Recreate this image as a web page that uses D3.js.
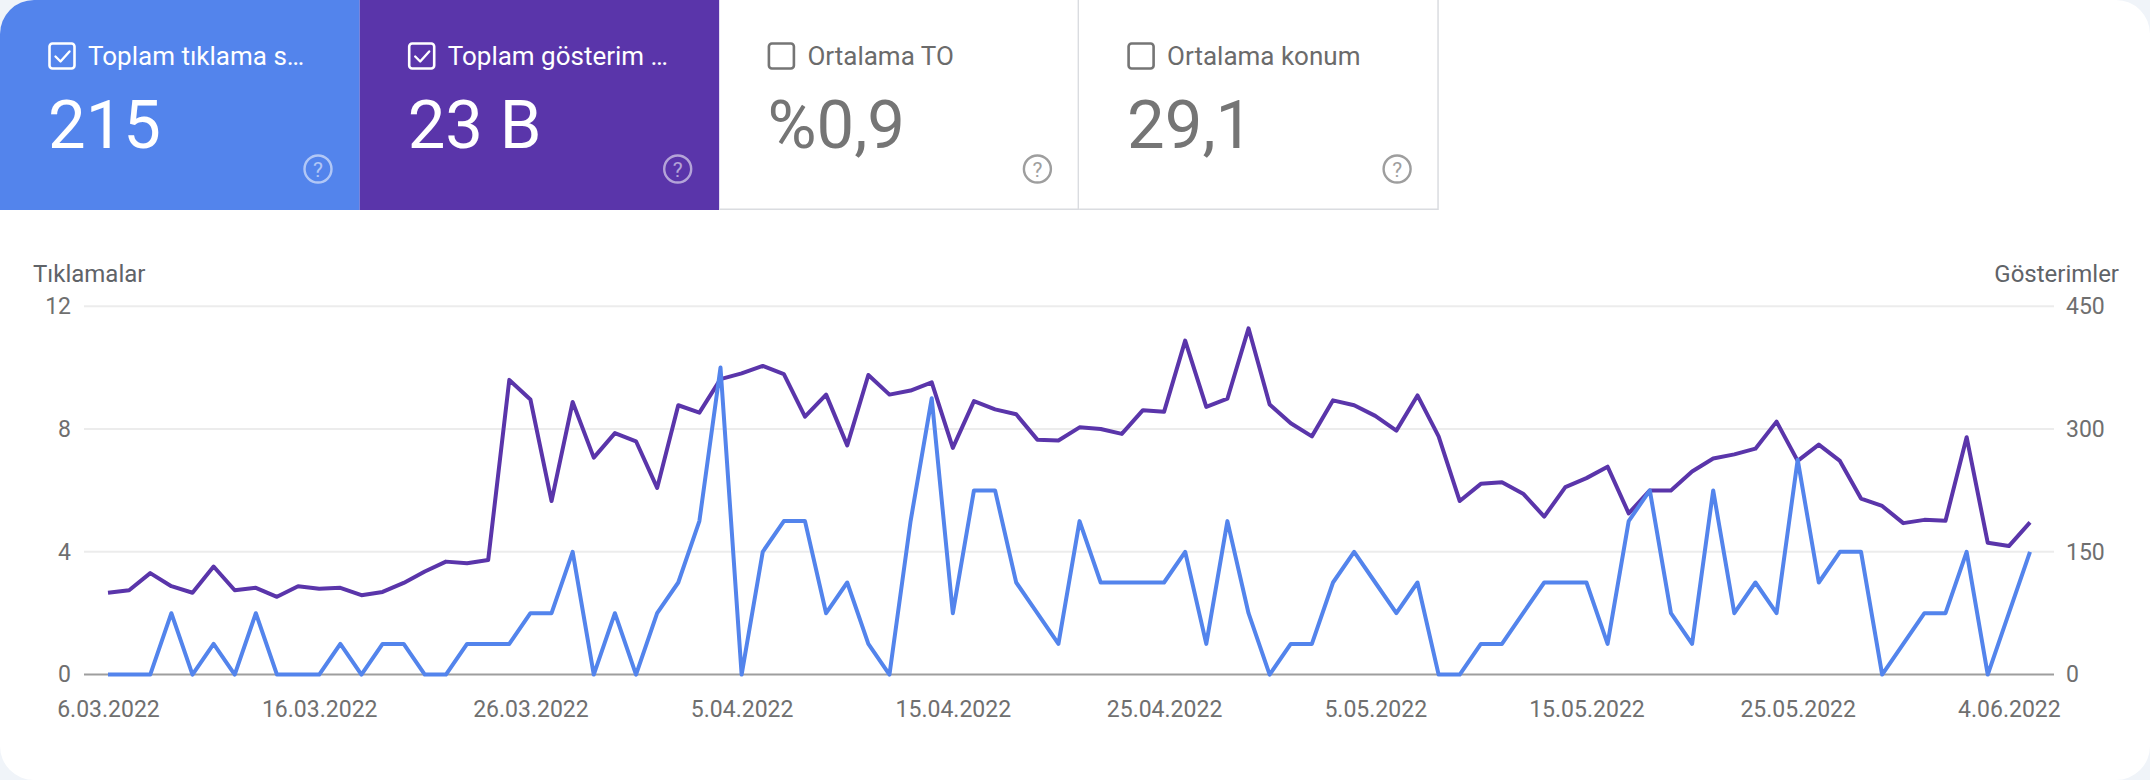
<!DOCTYPE html>
<html>
<head>
<meta charset="utf-8">
<script src="https://cdn.jsdelivr.net/npm/d3@7"></script>
<style>
  body { margin: 0; background: #f0f4f9; }
  svg { display: block; font-family: Roboto, "Noto Sans", sans-serif; }
</style>
</head>
<body>
<svg id="chart" width="2150" height="780"></svg>
<script>
// daily series, 6.03.2022 .. 5.06.2022
const startDate = new Date(2022, 2, 6);
const endDate = new Date(2022, 5, 5);

const clicks = [
  0, 0, 0, 2, 0, 1, 0, 2, 0, 0, 0, 1, 0, 1, 1, 0, 0, 1, 1, 1, 2, 2,
  4, 0, 2, 0, 2, 3, 5, 10, 0, 4, 5, 5, 2, 3, 1, 0, 5, 9, 2, 6, 6, 3, 2, 1, 5, 3,
  3, 3, 3, 4, 1, 5, 2, 0, 1, 1, 3, 4, 3, 2, 3, 0, 0, 1, 1, 2, 3, 3, 3, 1, 5,
  6, 2, 1, 6, 2, 3, 2, 7, 3, 4, 4, 0, 1, 2, 2, 4, 0, 2, 4
];

const impressions = [
  100, 103, 124, 108, 100, 132, 103, 106, 95, 108, 105, 106, 97, 101, 112, 126, 138, 136, 140, 360, 336, 212,
  333, 265, 295, 285, 228, 329, 320, 361, 368, 377, 367, 315, 342, 280, 366, 342, 347, 357, 277, 334, 324, 318, 287, 286, 302, 300,
  294, 323, 321, 408, 327, 337, 423, 330, 307, 291, 335, 329, 316, 298, 341, 291, 212, 233, 235, 221, 193, 229, 240, 254, 197,
  225, 225, 248, 264, 269, 276, 309, 261, 281, 261, 215, 206, 185, 189, 188, 290, 161, 157, 186
];

const clickTicks = [0, 4, 8, 12];
const impressionTicks = [0, 150, 300, 450];

const cardLabels = ["Toplam tıklama s…", "Toplam gösterim …", "Ortalama TO", "Ortalama konum"];
const cardValues = ["215", "23 B", "%0,9", "29,1"];
const cardChecked = [true, true, false, false];
const cardFill = ["#5384ec", "#5a35aa", "#ffffff", "#ffffff"];

const dates = d3.timeDay.range(startDate, d3.timeDay.offset(endDate, 1));
const fmt = d3.timeFormat("%-d.%m.%Y");

const svg = d3.select("#chart");
const W = 2150, H = 780;

svg.append("clipPath").attr("id", "panel")
  .append("rect").attr("width", W).attr("height", H).attr("rx", 34);

const root = svg.append("g").attr("clip-path", "url(#panel)");
root.append("rect").attr("width", W).attr("height", H).attr("fill", "#ffffff");

// metric cards
const cardW = 359.7, cardH = 210;
const cards = root.selectAll("g.card")
  .data(cardLabels)
  .join("g")
  .attr("class", "card")
  .attr("transform", (d, i) => `translate(${i * cardW},0)`);

cards.append("rect")
  .attr("width", cardW).attr("height", cardH)
  .attr("fill", (d, i) => cardFill[i]);

cards.filter((d, i) => !cardChecked[i]).append("path")
  .attr("d", `M${cardW - 0.75},0V${cardH - 0.75}H0`)
  .attr("fill", "none").attr("stroke", "#dadce0").attr("stroke-width", 1.5);

cards.append("rect")
  .attr("x", 49.5).attr("y", 43.5).attr("width", 25).attr("height", 25).attr("rx", 3)
  .attr("fill", "none")
  .attr("stroke", (d, i) => cardChecked[i] ? "#ffffff" : "#757575")
  .attr("stroke-width", 2.6);

cards.filter((d, i) => cardChecked[i]).append("path")
  .attr("d", "M55.5,56.5l5,5l9,-10")
  .attr("fill", "none").attr("stroke", "#ffffff").attr("stroke-width", 2.4)
  .attr("stroke-linecap", "round").attr("stroke-linejoin", "round");

cards.append("text")
  .attr("x", 88).attr("y", 65)
  .attr("font-size", 26)
  .attr("fill", (d, i) => cardChecked[i] ? "#ffffff" : "#6b6b6b")
  .text(d => d);

cards.append("text")
  .attr("x", 48).attr("y", 148)
  .attr("font-size", 67)
  .attr("fill", (d, i) => cardChecked[i] ? "#ffffff" : "#757575")
  .text((d, i) => cardValues[i]);

const help = cards.append("g")
  .attr("transform", "translate(318,169)")
  .attr("opacity", (d, i) => cardChecked[i] ? 0.55 : 1);
help.append("circle").attr("r", 13.5)
  .attr("fill", "none")
  .attr("stroke", (d, i) => cardChecked[i] ? "#ffffff" : "#9e9e9e")
  .attr("stroke-width", 2.4);
help.append("text")
  .attr("text-anchor", "middle").attr("y", 7.5)
  .attr("font-size", 21)
  .attr("fill", (d, i) => cardChecked[i] ? "#ffffff" : "#9e9e9e")
  .text("?");

// chart
const x = d3.scaleTime().domain([startDate, endDate]).range([108, 2030]);
const yL = d3.scaleLinear().domain([0, 12]).range([674.6, 306.2]);
const yR = d3.scaleLinear().domain([0, 450]).range([674.6, 306.2]);
const plotLeft = 84, plotRight = 2054;

const grid = root.append("g");
grid.selectAll("line")
  .data(clickTicks.filter(t => t > 0))
  .join("line")
  .attr("x1", plotLeft).attr("x2", plotRight)
  .attr("y1", d => yL(d)).attr("y2", d => yL(d))
  .attr("stroke", "#ececec").attr("stroke-width", 2);

const axisText = { size: 23, color: "#6f6f6f" };

const leftAxis = root.append("g").attr("transform", `translate(${plotLeft},0)`)
  .call(d3.axisLeft(yL).tickValues(clickTicks).tickSize(0).tickPadding(13));
const rightAxis = root.append("g").attr("transform", `translate(${plotRight},0)`)
  .call(d3.axisRight(yR).tickValues(impressionTicks).tickSize(0).tickPadding(12));
const bottomAxis = root.append("g").attr("transform", "translate(0,690)")
  .call(d3.axisBottom(x)
    .tickValues(d3.timeDay.range(startDate, endDate, 10))
    .tickFormat(fmt).tickSize(0).tickPadding(11));

[leftAxis, rightAxis, bottomAxis].forEach(a => {
  a.select(".domain").remove();
  a.selectAll("text")
    .attr("font-size", axisText.size)
    .attr("fill", axisText.color)
    .attr("font-family", "Roboto, sans-serif");
});
bottomAxis.selectAll("text").attr("dy", "0.71em");

root.append("line")
  .attr("x1", plotLeft).attr("x2", plotRight)
  .attr("y1", yL(0)).attr("y2", yL(0))
  .attr("stroke", "#9e9e9e").attr("stroke-width", 2);

root.append("text").attr("x", 33).attr("y", 282)
  .attr("font-size", 24).attr("fill", "#5f6368").text("Tıklamalar");
root.append("text").attr("x", 2119).attr("y", 282).attr("text-anchor", "end")
  .attr("font-size", 24).attr("fill", "#5f6368").text("Gösterimler");

const lineImp = d3.line().x((d, i) => x(dates[i])).y(d => yR(d));
const lineClk = d3.line().x((d, i) => x(dates[i])).y(d => yL(d));

root.append("path").datum(impressions)
  .attr("d", lineImp)
  .attr("fill", "none").attr("stroke", "#5a35aa").attr("stroke-width", 4)
  .attr("stroke-linejoin", "round");

root.append("path").datum(clicks)
  .attr("d", lineClk)
  .attr("fill", "none").attr("stroke", "#5384ec").attr("stroke-width", 4)
  .attr("stroke-linejoin", "round");
</script>
</body>
</html>
